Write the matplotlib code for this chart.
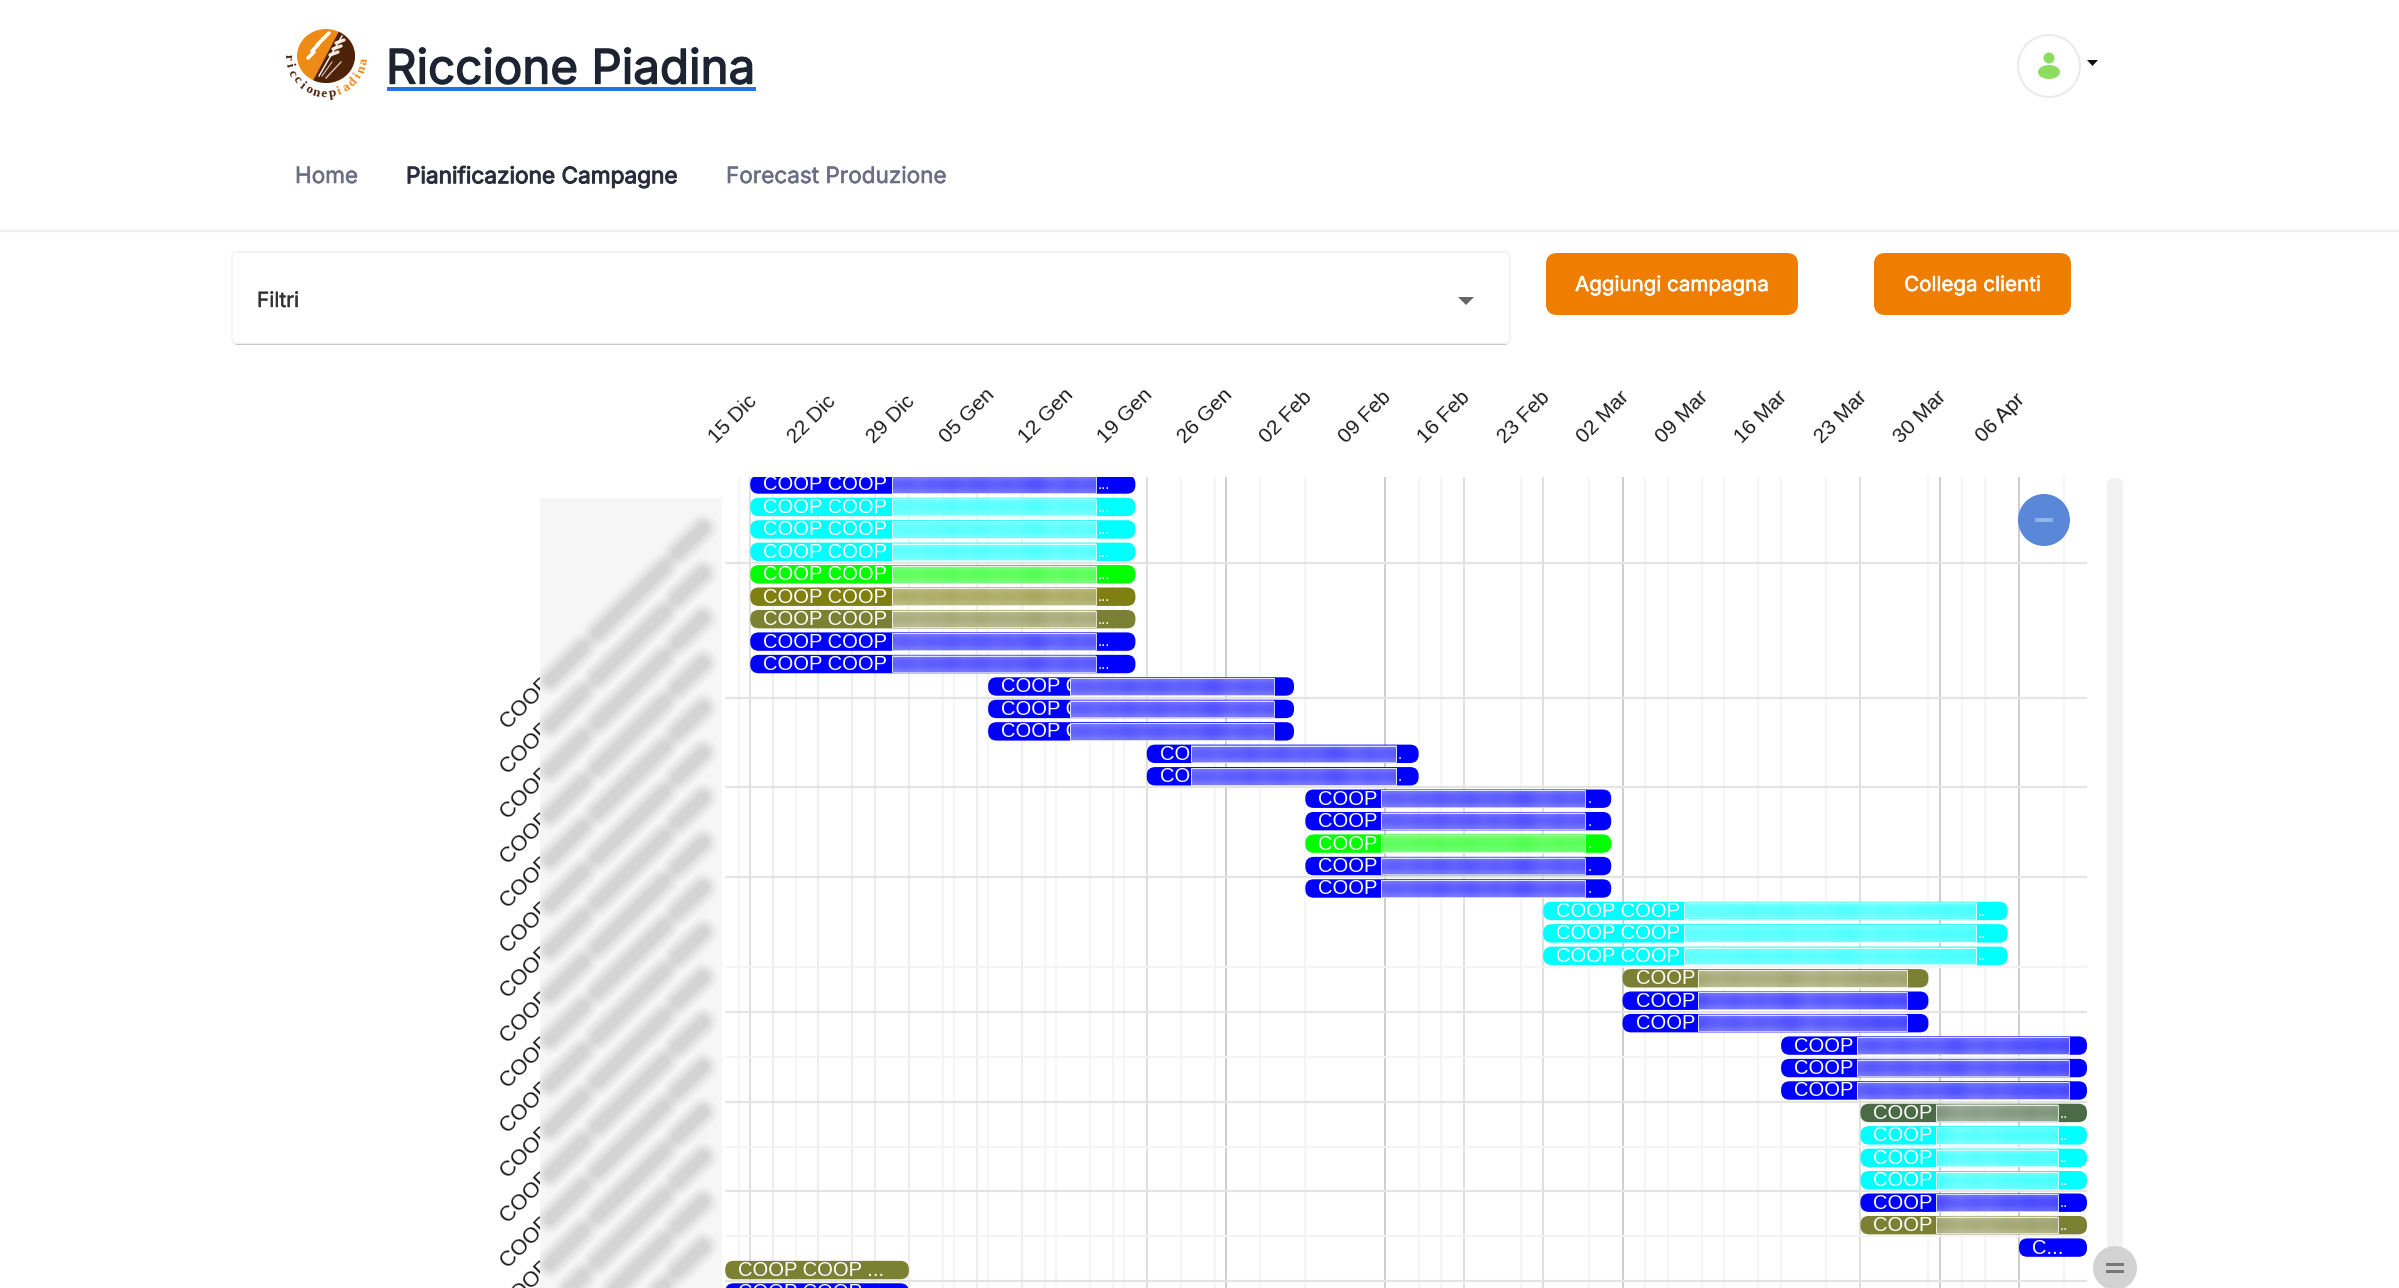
import numpy as np
import pandas as pd
import matplotlib
matplotlib.use("Agg")
import matplotlib.pyplot as plt
import matplotlib.patheffects as pe
from matplotlib.patches import FancyBboxPatch, Rectangle, Circle, Ellipse, Polygon
from matplotlib.transforms import ScaledTranslation

W, H = 2399, 1288
BASE = pd.Timestamp("2024-12-15")

BLUE = "#0000ff"
CYAN = "#00ffff"
LIME = "#00ff00"
OLIVE = "#7f7f12"
OLIVE2 = "#7b8032"
DGREEN = "#4b6b46"

# campagne: un gruppo per ogni blocco di barre
group_start = ["2024-12-15", "2025-01-05", "2025-01-19", "2025-02-02", "2025-02-23", "2025-03-02",
               "2025-03-16", "2025-03-23", "2025-04-06", "2024-12-12 19:00", "2024-12-12 19:00"]
group_end = ["2025-01-18", "2025-02-01", "2025-02-12", "2025-03-01", "2025-04-05", "2025-03-29",
             "2025-04-12", "2025-04-12", "2025-04-12", "2024-12-29", "2024-12-29"]
group_colors = [
    [BLUE, CYAN, CYAN, CYAN, LIME, OLIVE, OLIVE2, BLUE, BLUE],
    [BLUE, BLUE, BLUE],
    [BLUE, BLUE],
    [BLUE, BLUE, LIME, BLUE, BLUE],
    [CYAN, CYAN, CYAN],
    [OLIVE2, BLUE, BLUE],
    [BLUE, BLUE, BLUE],
    [DGREEN, CYAN, CYAN, CYAN, BLUE, OLIVE2],
    [BLUE],
    [OLIVE2],
    [BLUE],
]
group_text = ["COOP COOP", "COOP COOP", "COOP", "COOP", "COOP COOP", "COOP", "COOP", "COOP", "C...",
              "COOP COOP ...", "COOP COOP ..."]
group_dots = ["...", "", ".", ".", "..", "", "", "..", "", "", ""]
# zona oscurata dentro le barre, in giorni dal 15 Dic
mask_from = [12.5, 28.2, 38.9, 55.7, 82.4, 83.7, 97.7, 104.7, None, None, None]
mask_to = [30.5, 46.2, 57.0, 73.7, 108.2, 102.1, 116.4, 115.4, None, None, None]
mask_tones = [0.38, 0.36, 0.40, 0.35, 0.38, 0.32, 0.38, 0.36, 0.33, 0.39, 0.35, 0.38,
              0.34, 0.30, 0.37, 0.39, 0.33, 0.38, 0.35, 0.31, 0.33, 0.28, 0.32, 0.29]

week_labels = ["15 Dic", "22 Dic", "29 Dic", "05 Gen", "12 Gen", "19 Gen", "26 Gen", "02 Feb", "09 Feb",
               "16 Feb", "23 Feb", "02 Mar", "09 Mar", "16 Mar", "23 Mar", "30 Mar", "06 Apr"]
week_days = [0, 7, 14, 21, 28, 35, 42, 49, 56, 63, 70, 77, 84, 91, 98, 105, 112]

# griglia verticale (giorni) su tre livelli
vgrid_strong = [42, 56, 77, 105, 112]
vgrid_mid = [0, 35, 63, 70, 98]
vgrid_soft = [2, 6, 9, 11, 14, 20, 24]
vgrid_light = [-1, 4, 17, 18, 21, 26, 27, 30, 32, 33, 38, 41, 45, 49, 59, 61, 68, 74, 79, 81, 84, 86, 89,
               91, 95, 104, 107, 109, 116]
hgrid_strong = [3.5, 9.5, 13.5, 17.5, 23.5, 27.5, 31.5, 35.5]
hgrid_light = [21.5, 25.5, 29.5, 33.5]

customer_ticks = [1.5, 3.5, 5.5, 7.5, 9.5, 11.5, 13.5, 15.5, 17.5, 19.5, 21.5, 23.5, 25.5, 27.5, 29.5,
                  31.5, 33.5, 35.5]
customer_label = "COOP COOP ALLEANZA 3.0"

plt.rcParams["font.family"] = ["Liberation Sans", "DejaVu Sans"]
fig = plt.figure(figsize=(W / 100, H / 100), dpi=100, facecolor="white")

# --- grafico ---
ax = fig.add_axes([725 / W, 0, (2087 - 725) / W, (H - 477) / H], zorder=1)
ax.patch.set_visible(False)
for s in ax.spines.values():
    s.set_visible(False)

ax.vlines(vgrid_light, -1, 37, color="#f3f3f3", lw=1.2, zorder=1)
ax.vlines(vgrid_soft, -1, 37, color="#ebebeb", lw=1.2, zorder=1)
ax.vlines(vgrid_mid, -1, 37, color="#dadada", lw=1.2, zorder=1)
ax.vlines(vgrid_strong, -1, 37, color="#c6c6c6", lw=1.2, zorder=1)
ax.hlines(hgrid_light, -3, 119, color="#f4f4f4", lw=1.4, zorder=1)
ax.hlines(hgrid_strong, -3, 119, color="#e4e4e4", lw=1.6, zorder=1)


def to_rgb(c):
    return np.array(matplotlib.colors.to_rgb(c))


row = 0
for g in range(len(group_start)):
    d0 = (pd.Timestamp(group_start[g]) - BASE).total_seconds() / 86400
    d1 = (pd.Timestamp(group_end[g]) - BASE).total_seconds() / 86400
    for c in group_colors[g]:
        bar = FancyBboxPatch((d0, row - 0.41), d1 - d0, 0.82, boxstyle="round,pad=0,rounding_size=0.75",
                             mutation_aspect=0.505, fc=c, ec="none", zorder=2)
        ax.add_patch(bar)
        ax.text(d0 + 1.15, row + 0.02, group_text[g], color="white", fontsize=14.5, va="center", ha="left",
                zorder=3, clip_on=True)
        if mask_from[g] is not None:
            n = int(round((mask_to[g] - mask_from[g]) * 1.05))
            t = np.array(mask_tones[-n:] if g > 3 else mask_tones[:n])
            rows = np.array([t + 0.10, t + 0.01, t, t + 0.01, t + 0.10])
            rgb = to_rgb(c)
            img = rgb + (1 - rgb) * rows[..., None]
            ax.imshow(img, extent=(mask_from[g], mask_to[g], row + 0.37, row - 0.37), aspect="auto",
                      interpolation="bicubic", zorder=4)
            ax.add_patch(Rectangle((mask_from[g], row - 0.37), mask_to[g] - mask_from[g], 0.74, fc="none",
                                   ec="white", lw=0.7, alpha=0.8, zorder=5))
            if group_dots[g]:
                ax.text(mask_to[g] + 0.18, row + 0.03, group_dots[g], color="white", fontsize=11, va="center",
                        ha="left", zorder=5, clip_on=True)
        row += 1

ax.set_xlim(-2.23, 118)
ax.set_ylim(35.8, -0.334)

ax.xaxis.tick_top()
ax.set_xticks(week_days)
ax.set_xticklabels(week_labels, fontsize=15, rotation=45, ha="right", color="#1c1c1c")
ax.tick_params(axis="x", length=0, pad=22)
shift = ScaledTranslation(10 / 100, 0, fig.dpi_scale_trans)
for lab in ax.get_xticklabels():
    lab.set_transform(lab.get_transform() + shift)

ax.set_yticks(customer_ticks)
ax.set_yticklabels([customer_label] * len(customer_ticks), fontsize=15.7, rotation=45, ha="right", va="top",
                   color="#1c1c1c")
ax.tick_params(axis="y", length=0, pad=9.5)

# --- pagina, coordinate in pixel ---
page = fig.add_axes([0, 0, 1, 1], zorder=2)
page.set_xlim(0, W)
page.set_ylim(H, 0)
page.axis("off")
page.patch.set_visible(False)

# blocco grigio con le etichette sfocate
block = Rectangle((540, 498), 182, H - 498, fc="#f6f6f6", ec="none", zorder=1)
page.add_patch(block)
blur_parts = [((-160, 162), (-127, 129)), ((-113, 115), (-46, 49)), ((-33, 35), (-7, 10))]
for tick in customer_ticks:
    yp = H - ax.transData.transform((0, tick))[1]
    for a, b in blur_parts:
        for w, al in zip([30, 26, 22, 18, 14, 10], [0.03, 0.04, 0.05, 0.06, 0.07, 0.07]):
            ln, = page.plot([710 + a[0], 710 + b[0]], [yp + a[1], yp + b[1]], color="#888888", lw=w * 0.72,
                            alpha=al, solid_capstyle="round", zorder=2)
            ln.set_clip_path(block)

INTER = ["Inter", "Liberation Sans", "DejaVu Sans"]


def bolder(width, color):
    return [pe.withStroke(linewidth=width, foreground=color)]


# logo
cx, cy = 326, 56
page.add_patch(Ellipse((cx, cy), 58, 54, fc="#ee8a16", ec="none", zorder=2))
ang = np.radians(np.linspace(-64, 116, 40))
page.add_patch(Polygon(np.c_[cx + 29 * np.cos(ang), cy + 27 * np.sin(ang)], fc="#4e2109", ec="none", zorder=3))
grains_left = [(311, 56), (315, 49), (320, 43), (326, 37)]
grains_right = [(333, 55), (336, 49), (339, 43)]
for x0, y0 in grains_left:
    page.plot([x0 - 3, x0 + 3], [y0 + 2, y0 - 4], color="white", lw=2.6, zorder=4, solid_capstyle="round")
for x0, y0 in grains_right:
    page.plot([x0 - 3, x0 + 5], [y0, y0 - 3], color="#f5e6d8", lw=2.4, zorder=4, solid_capstyle="round")
page.plot([319, 342], [76, 36], color="white", lw=1.0, zorder=4)
page.plot([326, 341], [78, 62], color="#d9c6b8", lw=1.0, zorder=4)
page.plot([322, 332], [76, 62], color="#d9c6b8", lw=0.8, zorder=4)
arc_text = "riccionepiadina"
arc_ang = np.linspace(178, 8, len(arc_text))
for ch, a in zip(arc_text, arc_ang):
    r = np.radians(a)
    col = "#4e2109" if a > 72 else "#ee8a16"
    page.text(cx + 38 * np.cos(r), cy + 38 * np.sin(r), ch, rotation=90 - a, fontsize=9.5, color=col,
              fontweight="bold", ha="center", va="center", zorder=4, family=["Liberation Serif", "DejaVu Sans"])

page.text(386, 71.5, "Riccione Piadina", fontsize=34.2, color="#1d2330", family=INTER, va="center", ha="left",
          zorder=5, path_effects=bolder(1.0, "#1d2330"))
page.add_patch(Rectangle((387, 87), 369, 4, fc="#2670e8", ec="none", zorder=5))

page.text(295, 177, "Home", fontsize=16.2, color="#6c6e86", family=INTER, va="center",
          path_effects=bolder(0.4, "#6c6e86"))
page.text(406, 177, "Pianificazione Campagne", fontsize=16.3, color="#2b2d3c", family=INTER, va="center",
          path_effects=bolder(0.7, "#2b2d3c"))
page.text(726, 177, "Forecast Produzione", fontsize=16.2, color="#6c6e86", family=INTER, va="center",
          path_effects=bolder(0.4, "#6c6e86"))
page.plot([0, W], [230.5, 230.5], color="#efefef", lw=1.6, zorder=1)

# filtri
page.add_patch(FancyBboxPatch((233, 255), 1276, 90, boxstyle="round,pad=0,rounding_size=5", fc="#bdbdbd", ec="none",
                              zorder=1))
page.add_patch(FancyBboxPatch((232, 252), 1278, 91.5, boxstyle="round,pad=0,rounding_size=5", fc="white", ec="#f0f0f0",
                              lw=1, zorder=2))
page.text(257, 301, "Filtri", fontsize=15, color="#333333", family=INTER, va="center", zorder=3,
          path_effects=bolder(0.3, "#333333"))
page.add_patch(Polygon([[1458, 297], [1474, 297], [1466, 305]], fc="#666666", ec="none", zorder=3))

# pulsanti
for x0, x1, lbl in [(1546, 1798, "Aggiungi campagna"), (1874, 2071, "Collega clienti")]:
    page.add_patch(FancyBboxPatch((x0, 253), x1 - x0, 62, boxstyle="round,pad=0,rounding_size=11", fc="#ef7d00",
                                  ec="none", zorder=3))
    page.text((x0 + x1) / 2, 286, lbl, fontsize=14.8, color="white", family=INTER, ha="center", va="center",
              zorder=4, path_effects=bolder(0.4, "white"))

# utente
page.add_patch(Circle((2049, 66), 31, fc="white", ec="#e9e9f1", lw=1.4, zorder=2))
page.add_patch(Ellipse((2049, 58), 11, 11, fc="#8ddc5e", ec="none", zorder=3))
page.add_patch(Ellipse((2049, 72), 22, 14, fc="#8ddc5e", ec="none", zorder=3))
page.add_patch(Polygon([[2087, 60], [2098, 60], [2092.5, 66]], fc="#111111", ec="none", zorder=3))

# pulsante meno e scrollbar
page.add_patch(Circle((2044, 520), 26, fc="#5b87d8", ec="none", zorder=6))
page.add_patch(Rectangle((2035, 518), 18, 3.5, fc="#93b2e8", ec="none", zorder=7))
page.add_patch(FancyBboxPatch((2107, 478), 16, 790, boxstyle="round,pad=0,rounding_size=7", fc="#f2f2f2", ec="none",
                              zorder=1))
page.add_patch(Circle((2115, 1268), 22, fc="#d2d2d2", ec="none", zorder=6))
page.add_patch(Rectangle((2106, 1263), 18, 2.5, fc="#777777", ec="none", zorder=7))
page.add_patch(Rectangle((2106, 1270), 18, 2.5, fc="#777777", ec="none", zorder=7))

fig.savefig("out.png", dpi=100)
